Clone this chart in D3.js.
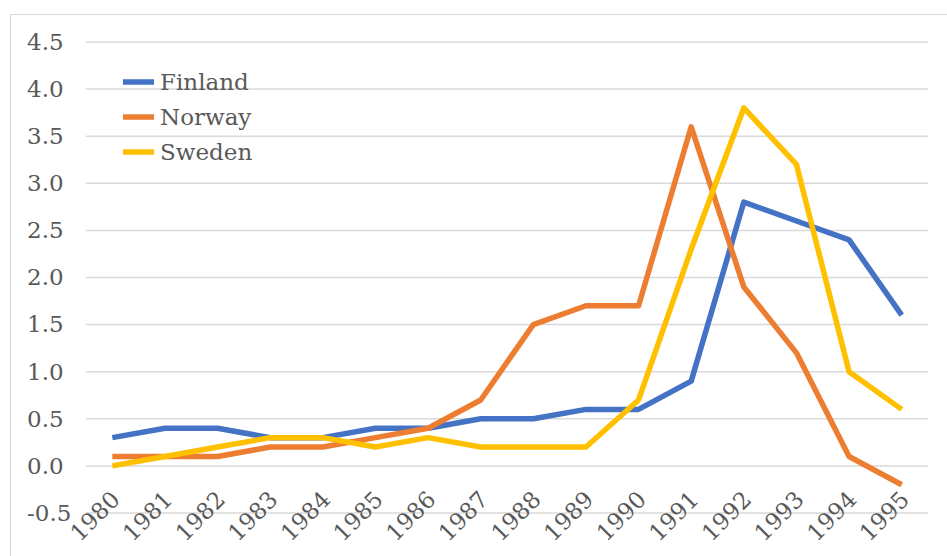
<!DOCTYPE html>
<html lang="en">
<head>
<meta charset="UTF-8">
<title>Finland, Norway, Sweden 1980-1995</title>
<script src="https://cdn.jsdelivr.net/npm/d3@7"></script>
<style>
    body { margin: 0; background: #fff; }
    text { font-family: "DejaVu Serif", serif; fill: #595959; }
</style>
</head>
<body>
<script>
    var years = ["1980", "1981", "1982", "1983", "1984", "1985", "1986", "1987",
        "1988", "1989", "1990", "1991", "1992", "1993", "1994", "1995"];
    var finland = [0.3, 0.4, 0.4, 0.3, 0.3, 0.4, 0.4, 0.5, 0.5, 0.6, 0.6, 0.9, 2.8, 2.6, 2.4, 1.6];
    var norway = [0.1, 0.1, 0.1, 0.2, 0.2, 0.3, 0.4, 0.7, 1.5, 1.7, 1.7, 3.6, 1.9, 1.2, 0.1, -0.2];
    var sweden = [0.0, 0.1, 0.2, 0.3, 0.3, 0.2, 0.3, 0.2, 0.2, 0.2, 0.7, 2.3, 3.8, 3.2, 1.0, 0.6];
    var yTicks = [-0.5, 0, 0.5, 1, 1.5, 2, 2.5, 3, 3.5, 4, 4.5];

    var series = [
        {name: "Finland", values: finland, color: "#4472C4"},
        {name: "Norway", values: norway, color: "#ED7D31"},
        {name: "Sweden", values: sweden, color: "#FFC000"}
    ];

    var W = 947, H = 556;
    var svg = d3.select("body").append("svg").attr("width", W).attr("height", H);

    // chart area border (only left/top visible)
    svg.append("rect").attr("x", 10.5).attr("y", 14.5).attr("width", 945).attr("height", 560)
        .attr("fill", "none").attr("stroke", "#d9d9d9").attr("stroke-width", 1);

    var x = d3.scaleBand().domain(years).range([86, 928]);
    var y = d3.scaleLinear().domain([-0.5, 4.5]).range([513, 42]);

    // gridlines
    svg.append("g").selectAll("line").data(yTicks).enter().append("line")
        .attr("x1", 86).attr("x2", 928)
        .attr("y1", function (d) { return y(d); }).attr("y2", function (d) { return y(d); })
        .attr("stroke", "#d9d9d9").attr("stroke-width", 1.5);

    // y labels (left aligned like the original), plain hyphen for minus
    var yAxis = d3.axisLeft(y).tickValues(yTicks)
        .tickFormat(function (d) { return d.toFixed(1); })
        .tickSize(0).tickPadding(0);
    var gy = svg.append("g").attr("transform", "translate(27,0)").call(yAxis);
    gy.select(".domain").remove();
    gy.selectAll("text").style("font-size", "23px").attr("fill", "#595959")
        .attr("text-anchor", "start")
        .style("font-family", "DejaVu Serif, serif");

    // x labels, rotated
    svg.append("g").selectAll("text").data(years).enter().append("text")
        .attr("text-anchor", "end")
        .attr("transform", function (d) {
            var cx = x(d) + x.bandwidth() / 2 + 9;
            return "translate(" + cx + ",501) rotate(-45)";
        })
        .style("font-size", "23px")
        .text(function (d) { return d; });

    var line = d3.line()
        .x(function (d, i) { return x(years[i]) + x.bandwidth() / 2; })
        .y(function (d) { return y(d); });

    svg.append("g").selectAll("path").data(series).enter().append("path")
        .attr("d", function (s) { return line(s.values); })
        .attr("fill", "none")
        .attr("stroke", function (s) { return s.color; })
        .attr("stroke-width", 5.5)
        .attr("stroke-linejoin", "round");

    // legend
    var lg = svg.append("g").selectAll("g").data(series).enter().append("g")
        .attr("transform", function (s, i) { return "translate(123," + (82 + i * 35) + ")"; });
    lg.append("line").attr("x1", 0).attr("x2", 31).attr("y1", 0).attr("y2", 0)
        .attr("stroke", function (s) { return s.color; }).attr("stroke-width", 5.5);
    lg.append("text").attr("x", 37).attr("y", 8).style("font-size", "23px")
        .text(function (s) { return s.name; });
</script>
</body>
</html>
